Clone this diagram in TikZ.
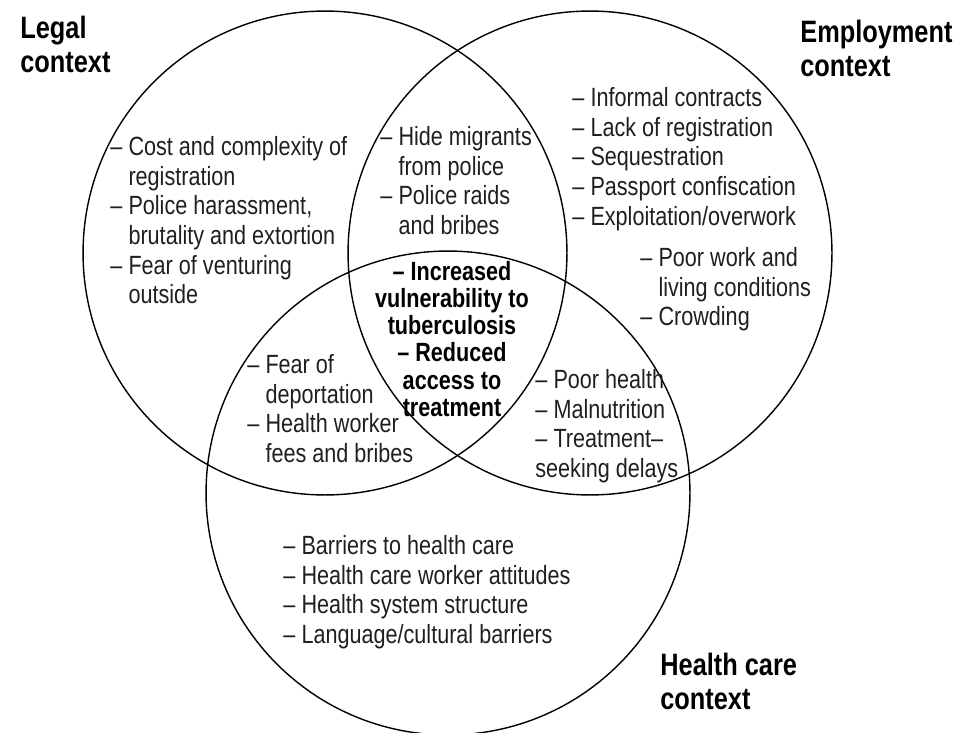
\documentclass[tikz,border=0pt]{standalone}
\usepackage{fontspec}
\setmainfont{Liberation Sans}[FakeStretch=0.82]
\newcommand{\tiret}{–\hspace{3.5pt}}
\newcommand{\retrait}{\hphantom{\tiret}}

\begin{document}
\begin{tikzpicture}[x=0.02cm, y=-0.02cm]
        % Style des noeuds
        \tikzstyle{cercle} = [circle, draw, line width=0.8pt, minimum size=9.68cm, inner sep=0pt]
        \tikzstyle{titre} = [anchor=north west, align=left, inner sep=0pt, font=\fontsize{17.6}{19.3}\selectfont\bfseries]
        \tikzstyle{liste} = [anchor=north west, align=left, inner sep=0pt, text=black!88, font=\fontsize{15}{16.9}\selectfont]
        \tikzstyle{centre} = [align=center, inner sep=0pt, font=\fontsize{15}{15.4}\selectfont\bfseries]

        \useasboundingbox (0,0) rectangle (973,733);

        % Cercles
        \node[cercle] (legal) at (325,253) {};
        \node[cercle] (emploi) at (590,253) {};
        \node[cercle] (sante) at (448,493) {};

        % Titres
        \node[titre] (tlegal) at (20,16) {Legal\\context};
        \node[titre] (temploi) at (800,20) {Employment\\context};
        \node[titre] (tsante) at (660,653) {Health care\\context};

        % Listes
        \node[liste] (llegal) at (110,136) {\tiret Cost and complexity of\\\retrait registration\\\tiret Police harassment,\\\retrait brutality and extortion\\\tiret Fear of venturing\\\retrait outside};
        \node[liste] (lemploi) at (572,87) {\tiret Informal contracts\\\tiret Lack of registration\\\tiret Sequestration\\\tiret Passport confiscation\\\tiret Exploitation/overwork};
        \node[liste] (lemploibis) at (640,247) {\tiret Poor work and\\\retrait living conditions\\\tiret Crowding};
        \node[liste] (lsante) at (283,535) {\tiret Barriers to health care\\\tiret Health care worker attitudes\\\tiret Health system structure\\\tiret Language/cultural barriers};

        % Intersections
        \node[liste] (legalemploi) at (380,126) {\tiret Hide migrants\\\retrait from police\\\tiret Police raids\\\retrait and bribes};
        \node[liste] (legalsante) at (247,354) {\tiret Fear of\\\retrait deportation\\\tiret Health worker\\\retrait fees and bribes};
        \node[liste] (emploisante) at (535,369) {\tiret Poor health\\\tiret Malnutrition\\\tiret Treatment–\\seeking delays};
        \node[centre] (tb) at (452,339) {– Increased\\vulnerability to\\tuberculosis\\– Reduced\\access to\\treatment};

    \end{tikzpicture}
\end{document}
